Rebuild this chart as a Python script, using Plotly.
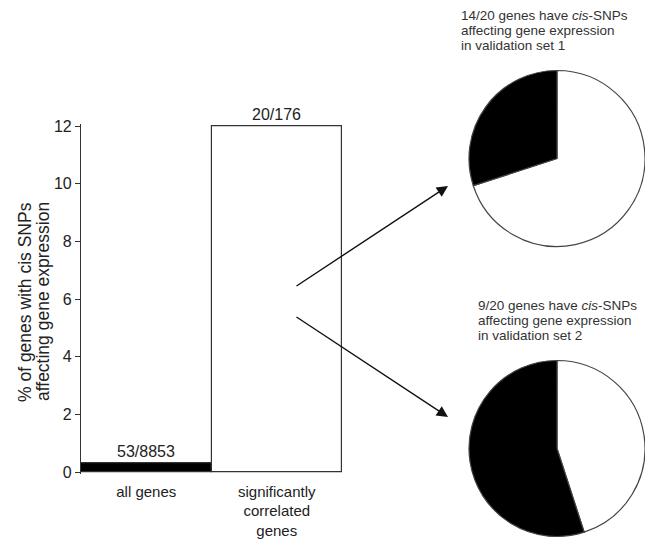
import plotly.graph_objects as go

# ---- data ----
categories = ["all genes", "significantly<br>correlated<br>genes"]
bar_values = [0.3, 12]
bar_labels = ["53/8853", "20/176"]
bar_colors = ["black", "white"]
y_ticks = [0, 2, 4, 6, 8, 10, 12]

pie1_labels = ["cis-SNPs", "no cis-SNPs"]
pie1_values = [14, 6]
pie2_labels = ["cis-SNPs", "no cis-SNPs"]
pie2_values = [9, 11]
pie_colors = ["white", "black"]

pie1_caption = ["14/20 genes have <i>cis</i>-SNPs", "affecting gene expression", "in validation set 1"]
pie2_caption = ["9/20 genes have <i>cis</i>-SNPs", "affecting gene expression", "in validation set 2"]
y_title = ["% of genes with cis SNPs", "affecting gene expression"]

W, H = 645, 540
FONT = "Liberation Sans, Arial, Helvetica, sans-serif"
TXT = "#222222"

def px(x):
    return min(max(x / W, 0.0), 1.0)

def py(y):
    return min(max((H - y) / H, 0.0), 1.0)

PAD = 0.06  # small range padding so bar outlines on the plot edges are not clipped
UNIT = (472 - 126) / 12.0

fig = go.Figure()

fig.add_trace(go.Bar(
    x=categories, y=bar_values, width=1,
    marker=dict(color=bar_colors, line=dict(color="#333333", width=1.2)),
    hoverinfo="skip", showlegend=False,
))

fig.add_trace(go.Pie(
    labels=pie1_labels, values=pie1_values, sort=False, direction="clockwise",
    rotation=0, textinfo="none", hoverinfo="skip", showlegend=False,
    marker=dict(colors=pie_colors, line=dict(color="#444444", width=1.2)),
    domain=dict(x=[px(469), px(645)], y=[py(247), py(70)]),
))
fig.add_trace(go.Pie(
    labels=pie2_labels, values=pie2_values, sort=False, direction="clockwise",
    rotation=0, textinfo="none", hoverinfo="skip", showlegend=False,
    marker=dict(colors=pie_colors, line=dict(color="#444444", width=1.2)),
    domain=dict(x=[px(469), px(645)], y=[py(537), py(360)]),
))

annotations = []
# bar value labels
for c, v, t in zip(categories, bar_values, bar_labels):
    annotations.append(dict(x=c, y=v, xref="x", yref="y", text=t, showarrow=False,
                            yanchor="bottom", yshift=1,
                            font=dict(size=16, color=TXT, family=FONT)))
# y axis title (two lines)
for xc, t in zip([25, 43], y_title):
    annotations.append(dict(x=px(xc), y=py(302), xref="paper", yref="paper", text=t,
                            textangle=-90, showarrow=False, xanchor="center", yanchor="middle",
                            font=dict(size=17.5, color=TXT, family=FONT)))
# pie captions, one line each
for i, t in enumerate(pie1_caption):
    annotations.append(dict(x=px(459), y=py(15 + 15 * i), xref="paper", yref="paper", text=t,
                            showarrow=False, xanchor="left", yanchor="middle", align="left",
                            font=dict(size=13.5, color="#333333", family=FONT)))
for i, t in enumerate(pie2_caption):
    annotations.append(dict(x=px(476), y=py(305 + 15 * i), xref="paper", yref="paper", text=t,
                            showarrow=False, xanchor="left", yanchor="middle", align="left",
                            font=dict(size=13.5, color="#333333", family=FONT)))
# arrows
annotations.append(dict(x=px(448), y=py(186), xref="paper", yref="paper", text="",
                        showarrow=True, ax=-153, ay=101, arrowhead=2, arrowsize=1.6,
                        arrowwidth=1.4, arrowcolor="#111111", standoff=0, startstandoff=0))
annotations.append(dict(x=px(448), y=py(417), xref="paper", yref="paper", text="",
                        showarrow=True, ax=-153, ay=-101, arrowhead=2, arrowsize=1.6,
                        arrowwidth=1.4, arrowcolor="#111111", standoff=0, startstandoff=0))

fig.update_layout(
    template="none",
    width=W, height=H, margin=dict(l=0, r=0, t=0, b=0, pad=0), autosize=False,
    paper_bgcolor="white", plot_bgcolor="white",
    font=dict(family=FONT, color=TXT),
    bargap=0,
    xaxis=dict(domain=[px(81), px(342)], range=[-0.5, 1.5], showline=False, automargin=False,
               showgrid=False, zeroline=False, ticks="", ticklabelstandoff=7,
               tickfont=dict(size=15, color=TXT)),
    yaxis=dict(domain=[py(472 + PAD * UNIT), py(126 - PAD * UNIT)], range=[-PAD, 12 + PAD],
               tickvals=y_ticks, automargin=False,
               showline=True, linecolor="#333333", linewidth=1.2,
               ticks="outside", ticklen=5, tickwidth=1.2, tickcolor="#333333",
               showgrid=False, zeroline=False,
               tickfont=dict(size=16, color=TXT)),
    annotations=annotations,
)

fig.write_html("out.html", config={"displayModeBar": False},
               post_script="document.body.style.margin='0';document.body.style.overflow='hidden';")
